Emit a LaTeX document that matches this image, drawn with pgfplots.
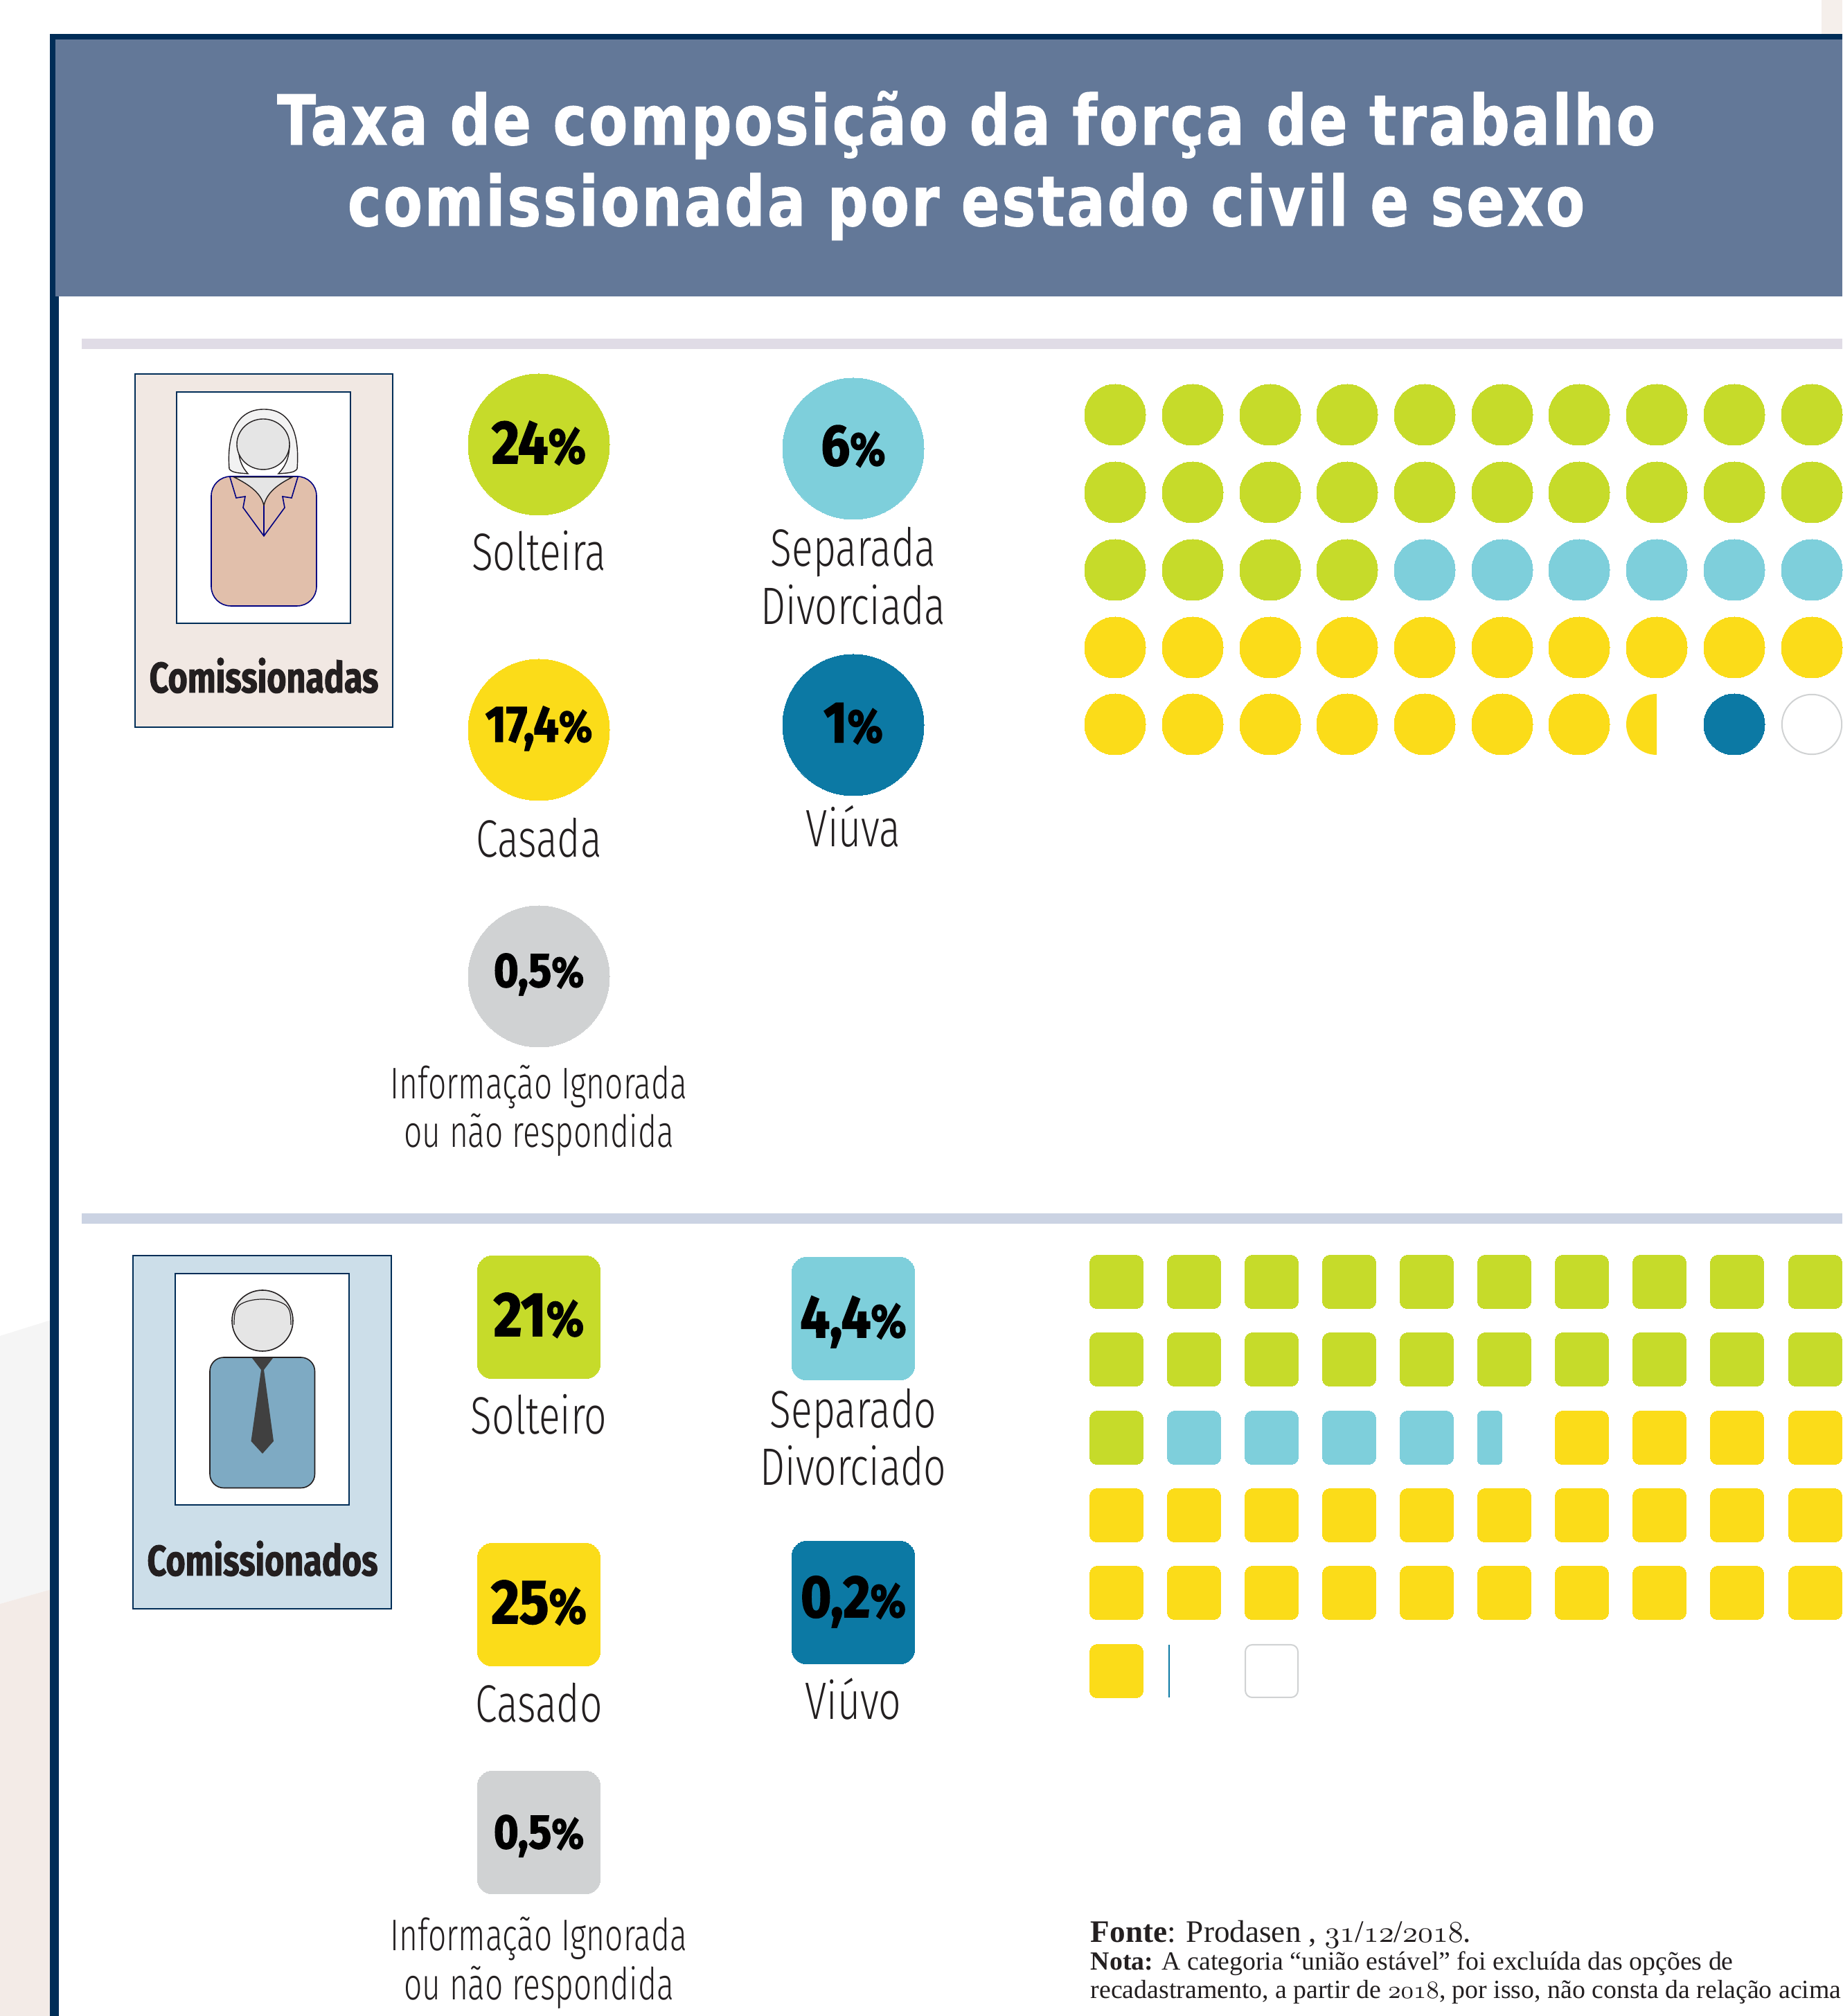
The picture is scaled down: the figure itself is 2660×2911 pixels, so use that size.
\documentclass[border=0pt]{standalone}
\usepackage{fontspec}
\usepackage{pgfplots}
\pgfplotsset{compat=1.18}
\setmainfont{Liberation Serif}
\newfontfamily\titlef{DejaVu Sans}[FakeStretch=0.82,LetterSpace=3,BoldFeatures={FakeBold=1}]
\newfontfamily\labelf{Fira Sans Light}[FakeStretch=0.75]
\newfontfamily\labels{Fira Sans Light}[FakeStretch=0.72]
\newfontfamily\heavyf{Fira Sans}[FakeStretch=0.88,BoldFeatures={FakeBold=1.8}]
\newfontfamily\cardf{Fira Sans}[FakeStretch=0.78,BoldFeatures={FakeBold=1.5}]
\definecolor{lime}{HTML}{C6DB2A}
\definecolor{teal2}{HTML}{7ECFDB}
\definecolor{yel}{HTML}{FBDC19}
\definecolor{dblue}{HTML}{0C79A4}
\definecolor{greyc}{HTML}{D0D2D3}
\definecolor{header}{HTML}{637898}
\definecolor{frame}{HTML}{002D57}
\definecolor{stripa}{HTML}{E0DCE6}
\definecolor{stripb}{HTML}{CBD3E3}
\definecolor{boxf}{HTML}{F1E8E3}
\definecolor{bodyf}{HTML}{E1BFAB}
\definecolor{boxm}{HTML}{CCDEE9}
\definecolor{bodym}{HTML}{7EAAC3}
\definecolor{ink}{HTML}{231F20}
% rounded box path: half width, half height, corner radius
\newcommand{\roundbox}[3]{%
  \pgfsetcornersarced{\pgfpoint{#3}{#3}}%
  \pgfpathmoveto{\pgfpoint{0pt}{-#2}}%
  \pgfpathlineto{\pgfpoint{#1}{-#2}}%
  \pgfpathlineto{\pgfpoint{#1}{#2}}%
  \pgfpathlineto{\pgfpoint{-#1}{#2}}%
  \pgfpathlineto{\pgfpoint{-#1}{-#2}}%
  \pgfpathclose
  \pgfusepath{fill,stroke}}
\pgfdeclareplotmark{rsq}{\roundbox{\pgfplotmarksize}{\pgfplotmarksize}{2.5pt}}
\pgfdeclareplotmark{rsqbig}{\roundbox{\pgfplotmarksize}{\pgfplotmarksize}{5.5pt}}
\pgfdeclareplotmark{rsqcut}{\roundbox{4.35pt}{\pgfplotmarksize}{1.5pt}}
\pgfdeclareplotmark{halfdot}{%
  \pgfpathmoveto{\pgfpoint{0pt}{-\pgfplotmarksize}}%
  \pgfpatharc{270}{90}{\pgfplotmarksize}%
  \pgfpathclose
  \pgfusepathqfill}
\pgfplotsset{
  dots/.style={only marks,mark=*,mark size=11pt,mark options={fill=#1,draw=#1,line width=0pt}},
  cells/.style={only marks,mark=rsq,mark size=9.6pt,mark options={fill=#1,draw=#1,line width=0pt}},
  bigdot/.style={only marks,mark=*,mark size=25.5pt,mark options={fill=#1,draw=#1,line width=0pt}},
  bigcell/.style={only marks,mark=rsqbig,mark size=22.2pt,mark options={fill=#1,draw=#1,line width=0pt}},
}
\newcommand{\lab}[3]{\node[anchor=base,inner sep=0pt,text=ink] at (#1,#2) {\labelf\fontsize{19pt}{19pt}\selectfont #3};}
\newcommand{\slab}[3]{\node[anchor=base,inner sep=0pt,text=ink] at (#1,#2) {\labels\fontsize{16pt}{16pt}\selectfont #3};}
\newcommand{\pct}[5]{\begin{pgfonlayer}{axis foreground}\node[anchor=base,inner sep=0pt,text=black] at (#1,#2) {\heavyf\bfseries\fontsize{#3}{#3}\selectfont #4{\fontsize{#5}{#5}\selectfont\%}};\end{pgfonlayer}}
\newcommand{\oldnum}[1]{{\usefont{OML}{cmm}{m}{it}#1}}
\begin{document}
\begin{tikzpicture}
\begin{axis}[
    scale only axis,
    width=665pt,
    height=727.75pt,
    xmin=0, xmax=2660,
    ymin=0, ymax=2911,
    y dir=reverse,
    axis lines=none,
    ticks=none,
    clip=true,
    set layers,
]
    % page background
    \fill[white] (0,0) rectangle (2660,2911);
    \fill[boxf!70!white] (2630,0) rectangle (2660,50);
    \fill[black!4] (0,1929) -- (74,1906) -- (74,2295) -- (0,2316) -- cycle;
    \fill[boxf!85!white] (0,2316) -- (74,2295) -- (74,2911) -- (0,2911) -- cycle;

    % frame and header
    \fill[frame] (72,49) rectangle (2660,2911);
    \fill[white] (85,428) rectangle (2660,2911);
    \fill[header] (80,57) rectangle (2660,428);
    \node[anchor=base,inner sep=0pt,text=white] at (1395,209)
      {\titlef\bfseries\fontsize{25pt}{25pt}\selectfont Taxa de composição da força de trabalho};
    \node[anchor=base,inner sep=0pt,text=white] at (1395,326)
      {\titlef\bfseries\fontsize{25pt}{25pt}\selectfont comissionada por estado civil e sexo};

    % separators
    \fill[stripa] (118,489) rectangle (2660,504);
    \fill[stripb] (118,1752) rectangle (2660,1767);

    % women card
    \filldraw[fill=boxf,draw=frame,line width=.5pt] (195,540) rectangle (567,1050);
    \filldraw[fill=white,draw=frame,line width=.5pt] (255,566) rectangle (506,900);
    \filldraw[fill=bodyf,draw=blue!50!black,line width=.4pt,rounded corners=7pt] (305,688) rectangle (457,875);
    \filldraw[fill=black!10,draw=ink,line width=.35pt] (338,689) -- (422,689) .. controls (400,700) and (385,712) .. (381,730) .. controls (377,712) and (360,700) .. (338,689) -- cycle;
    \draw[blue!50!black,line width=.4pt] (332,689) -- (341,719) -- (354,717) -- (351,733) -- (381,774) -- (411,733) -- (408,717) -- (421,719) -- (430,689);
    \draw[blue!50!black,line width=.4pt] (381,730) -- (381,774);
    \filldraw[fill=black!5,draw=ink,line width=.35pt] (358,684) .. controls (345,683) and (335,683) .. (331,677) .. controls (328,640) and (335,591) .. (381,591) .. controls (427,591) and (432,640) .. (429,677) .. controls (425,683) and (415,683) .. (402,684) .. controls (410,675) and (418,665) .. (418,640) -- (344,640) .. controls (344,665) and (350,675) .. (358,684) -- cycle;
    \filldraw[fill=black!10,draw=ink,line width=.35pt] (380,641.5) ellipse [x radius=38, y radius=36.5];
    \node[anchor=base,inner sep=0pt,text=ink] at (381,1000) {\cardf\bfseries\fontsize{15.5pt}{15.5pt}\selectfont Comissionadas};

    % men card
    \filldraw[fill=boxm,draw=frame,line width=.6pt] (192,1813) rectangle (565,2323);
    \filldraw[fill=white,draw=frame,line width=.6pt] (253,1839) rectangle (504,2173);
    \filldraw[fill=bodym,draw=ink,line width=.4pt,rounded corners=5pt] (303,1960) rectangle (454.5,2148.5);
    \filldraw[fill=black!75,draw=none] (364,1961) -- (394,1961) -- (381,1978) -- (395,2081) -- (379,2099) -- (362.5,2081) -- (377,1978) -- cycle;
    \filldraw[fill=black!10,draw=ink,line width=.4pt] (379,1907) ellipse [x radius=44, y radius=44];
    \draw[ink,line width=.3pt] (338,1913) .. controls (338,1895) and (340,1890) .. (345,1885) .. controls (360,1873) and (398,1873) .. (413,1885) .. controls (418,1890) and (420,1895) .. (420,1913);
    \node[anchor=base,inner sep=0pt,text=ink] at (379,2275) {\cardf\bfseries\fontsize{15.5pt}{15.5pt}\selectfont Comissionados};

    % women, dots of the waffle
    \addplot[dots=lime] coordinates {
      (1610,599)(1722,599)(1834,599)(1945,599)(2057,599)(2169,599)(2280,599)(2392,599)(2504,599)(2616,599)
      (1610,711)(1722,711)(1834,711)(1945,711)(2057,711)(2169,711)(2280,711)(2392,711)(2504,711)(2616,711)
      (1610,823)(1722,823)(1834,823)(1945,823)};
    \addplot[dots=teal2] coordinates {
      (2057,823)(2169,823)(2280,823)(2392,823)(2504,823)(2616,823)};
    \addplot[dots=yel] coordinates {
      (1610,935)(1722,935)(1834,935)(1945,935)(2057,935)(2169,935)(2280,935)(2392,935)(2504,935)(2616,935)
      (1610,1046)(1722,1046)(1834,1046)(1945,1046)(2057,1046)(2169,1046)(2280,1046)};
    \addplot[only marks,mark=halfdot,mark size=11pt,mark options={fill=yel,draw=yel}] coordinates {(2392,1046)};
    \addplot[dots=dblue] coordinates {(2504,1046)};
    \addplot[only marks,mark=*,mark size=10.8pt,mark options={fill=white,draw=greyc,line width=.5pt}] coordinates {(2616,1046)};

    % men, squares of the waffle
    \addplot[cells=lime] coordinates {
      (1612,1851)(1724,1851)(1836,1851)(1948,1851)(2060,1851)(2172,1851)(2284,1851)(2396,1851)(2508,1851)(2621,1851)
      (1612,1963)(1724,1963)(1836,1963)(1948,1963)(2060,1963)(2172,1963)(2284,1963)(2396,1963)(2508,1963)(2621,1963)
      (1612,2076)};
    \addplot[cells=teal2] coordinates {(1724,2076)(1836,2076)(1948,2076)(2060,2076)};
    \addplot[only marks,mark=rsqcut,mark size=9.6pt,mark options={fill=teal2,draw=teal2,line width=0pt}] coordinates {(2151,2076)};
    \addplot[cells=yel] coordinates {
      (2284,2076)(2396,2076)(2508,2076)(2621,2076)
      (1612,2188)(1724,2188)(1836,2188)(1948,2188)(2060,2188)(2172,2188)(2284,2188)(2396,2188)(2508,2188)(2621,2188)
      (1612,2300)(1724,2300)(1836,2300)(1948,2300)(2060,2300)(2172,2300)(2284,2300)(2396,2300)(2508,2300)(2621,2300)
      (1612,2413)};
    \addplot[only marks,mark=|,mark size=9.6pt,mark options={draw=dblue,line width=.5pt}] coordinates {(1688,2413)};
    \addplot[only marks,mark=rsq,mark size=9.5pt,mark options={fill=white,draw=greyc,line width=.5pt}] coordinates {(1836,2413)};

    % women, shares
    \addplot[bigdot=lime] coordinates {(778,642)};
    \addplot[bigdot=teal2] coordinates {(1232,648)};
    \addplot[bigdot=yel] coordinates {(778,1054)};
    \addplot[bigdot=dblue] coordinates {(1232,1047)};
    \addplot[bigdot=greyc] coordinates {(778,1410)};
    \pct{778}{669}{22pt}{24}{18pt}
    \pct{1232}{672}{21pt}{6}{17pt}
    \pct{778}{1071}{18.5pt}{17,4}{16pt}
    \pct{1232}{1072}{21pt}{1}{17pt}
    \pct{778}{1425}{17.5pt}{0,5}{15.5pt}
    \lab{778}{824}{Solteira}
    \lab{1232}{818}{Separada}
    \lab{1232}{902}{Divorciada}
    \lab{778}{1238}{Casada}
    \lab{1232}{1223}{Viúva}
    \slab{778}{1587}{Informação Ignorada}
    \slab{778}{1657}{ou não respondida}

    % men, shares
    \addplot[bigcell=lime] coordinates {(778,1902)};
    \addplot[bigcell=teal2] coordinates {(1232,1904)};
    \addplot[bigcell=yel] coordinates {(778,2317)};
    \addplot[bigcell=dblue] coordinates {(1232,2314)};
    \addplot[bigcell=greyc] coordinates {(778,2646)};
    \pct{778}{1929}{22.5pt}{21}{18pt}
    \pct{1232}{1931}{21.5pt}{4,4}{17pt}
    \pct{778}{2344}{22.5pt}{25}{18pt}
    \pct{1232}{2335}{21.5pt}{0,2}{17pt}
    \pct{778}{2669}{17.5pt}{0,5}{15.5pt}
    \lab{778}{2071}{Solteiro}
    \lab{1232}{2062}{Separado}
    \lab{1232}{2145}{Divorciado}
    \lab{778}{2487}{Casado}
    \lab{1232}{2483}{Viúvo}
    \slab{778}{2817}{Informação Ignorada}
    \slab{778}{2888}{ou não respondida}

    % source
    \node[anchor=base west,inner sep=0pt,text=ink] at (1574,2805)
      {\fontsize{11.3pt}{11.3pt}\selectfont\textbf{Fonte}: Prodasen , \oldnum{31}/\oldnum{12}/\oldnum{2018}.};
    \node[anchor=base west,inner sep=0pt,text=ink] at (1574,2845)
      {\fontsize{9.45pt}{9.45pt}\selectfont\textbf{Nota:} A categoria “união estável” foi excluída das opções de};
    \node[anchor=base west,inner sep=0pt,text=ink] at (1574,2886)
      {\fontsize{9.45pt}{9.45pt}\selectfont recadastramento, a partir de \oldnum{2018}, por isso, não consta da relação acima};
\end{axis}
\end{tikzpicture}
\end{document}
